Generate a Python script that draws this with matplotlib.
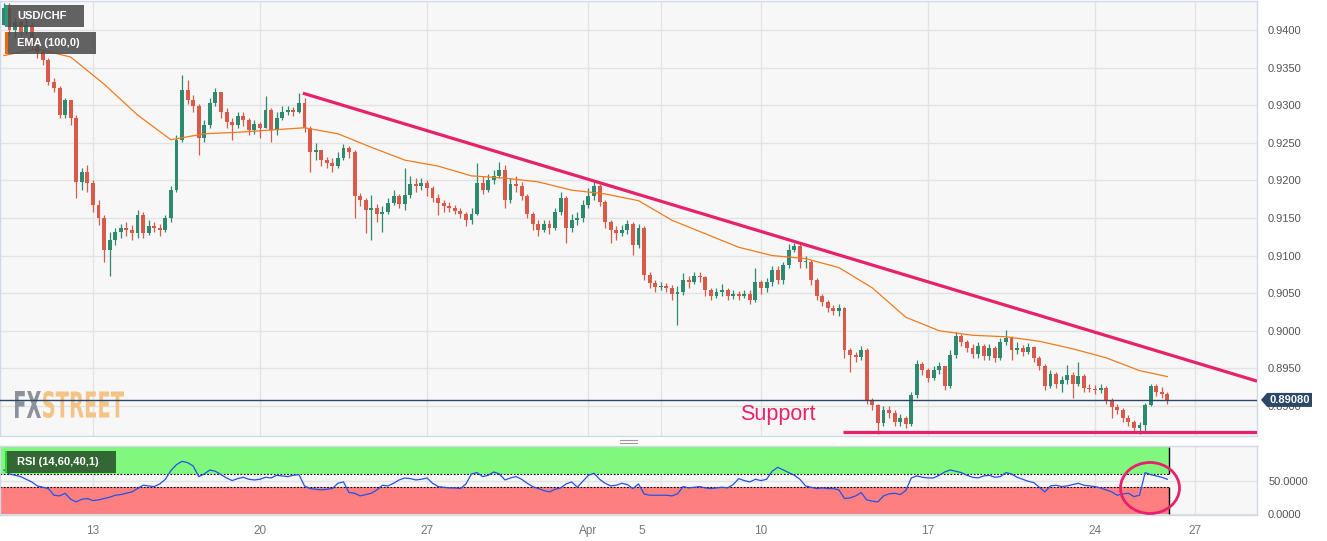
import numpy as np
import matplotlib
matplotlib.use("Agg")
import matplotlib.pyplot as plt
from matplotlib.patches import Rectangle, Ellipse, Polygon, PathPatch
from matplotlib.transforms import Affine2D
from matplotlib.textpath import TextPath
from matplotlib.font_manager import FontProperties
from matplotlib.ticker import FormatStrFormatter

plt.rcParams['font.family'] = ['Liberation Sans', 'DejaVu Sans']

# USD/CHF, 4h bars from Mar 8 to Apr 26 (open of the first bar, then close/high/low)
first_open = 0.9407
closes = [
    0.9429, 0.9400, 0.9411, 0.9397, 0.9407, 0.9380, 0.9371, 0.9360, 0.9331, 0.9323,
    0.9287, 0.9307, 0.9283, 0.9198, 0.9211, 0.9197, 0.9167, 0.9150, 0.9107, 0.9121,
    0.9131, 0.9137, 0.9134, 0.9130, 0.9154, 0.9130, 0.9139, 0.9137, 0.9134, 0.9150,
    0.9187, 0.9254, 0.9320, 0.9307, 0.9299, 0.9256, 0.9274, 0.9303, 0.9318, 0.9291,
    0.9278, 0.9274, 0.9286, 0.9280, 0.9267, 0.9275, 0.9270, 0.9294, 0.9267, 0.9283,
    0.9291, 0.9294, 0.9291, 0.9303, 0.9270, 0.9238, 0.9240, 0.9227, 0.9223, 0.9219,
    0.9230, 0.9243, 0.9238, 0.9179, 0.9174, 0.9161, 0.9163, 0.9155, 0.9158, 0.9170,
    0.9179, 0.9169, 0.9181, 0.9195, 0.9193, 0.9197, 0.9190, 0.9177, 0.9170, 0.9166,
    0.9163, 0.9159, 0.9155, 0.9147, 0.9155, 0.9197, 0.9187, 0.9201, 0.9206, 0.9214,
    0.9174, 0.9195, 0.9193, 0.9179, 0.9155, 0.9142, 0.9134, 0.9142, 0.9137, 0.9158,
    0.9177, 0.9137, 0.9147, 0.9150, 0.9167, 0.9179, 0.9193, 0.9171, 0.9145, 0.9134,
    0.9130, 0.9134, 0.9142, 0.9114, 0.9137, 0.9074, 0.9064, 0.9058, 0.9060, 0.9057,
    0.9049, 0.9052, 0.9068, 0.9065, 0.9073, 0.9072, 0.9054, 0.9046, 0.9052, 0.9054,
    0.9046, 0.9049, 0.9046, 0.9049, 0.9041, 0.9065, 0.9057, 0.9065, 0.9081, 0.9068,
    0.9088, 0.9107, 0.9113, 0.9092, 0.9092, 0.9068, 0.9046, 0.9038, 0.9030, 0.9026,
    0.9030, 0.8974, 0.8968, 0.8965, 0.8974, 0.8908, 0.8901, 0.8877, 0.8895, 0.8891,
    0.8879, 0.8884, 0.8876, 0.8915, 0.8956, 0.8948, 0.8937, 0.8948, 0.8953, 0.8927,
    0.8968, 0.8993, 0.8985, 0.8977, 0.8969, 0.8980, 0.8967, 0.8977, 0.8964, 0.8985,
    0.8990, 0.8974, 0.8977, 0.8972, 0.8978, 0.8964, 0.8953, 0.8927, 0.8943, 0.8929,
    0.8935, 0.8941, 0.8929, 0.8940, 0.8924, 0.8922, 0.8921, 0.8924, 0.8908, 0.8899,
    0.8895, 0.8884, 0.8879, 0.8871, 0.8875, 0.8901, 0.8927, 0.8919, 0.8916, 0.8908,
]
highs = [
    0.9436, 0.9436, 0.9416, 0.9413, 0.9416, 0.9411, 0.9387, 0.9373, 0.9363, 0.9336,
    0.9326, 0.9310, 0.9307, 0.9287, 0.9217, 0.9221, 0.9201, 0.9174, 0.9154, 0.9131,
    0.9137, 0.9142, 0.9145, 0.9141, 0.9161, 0.9158, 0.9147, 0.9145, 0.9142, 0.9154,
    0.9193, 0.9260, 0.9340, 0.9334, 0.9314, 0.9302, 0.9280, 0.9310, 0.9323, 0.9318,
    0.9296, 0.9283, 0.9291, 0.9291, 0.9283, 0.9280, 0.9278, 0.9312, 0.9296, 0.9291,
    0.9299, 0.9299, 0.9298, 0.9316, 0.9310, 0.9272, 0.9250, 0.9240, 0.9231, 0.9230,
    0.9238, 0.9248, 0.9246, 0.9240, 0.9183, 0.9177, 0.9181, 0.9169, 0.9166, 0.9177,
    0.9187, 0.9182, 0.9217, 0.9206, 0.9203, 0.9203, 0.9201, 0.9193, 0.9182, 0.9174,
    0.9171, 0.9167, 0.9163, 0.9158, 0.9163, 0.9223, 0.9206, 0.9209, 0.9214, 0.9225,
    0.9221, 0.9203, 0.9206, 0.9198, 0.9182, 0.9158, 0.9147, 0.9147, 0.9147, 0.9163,
    0.9185, 0.9179, 0.9155, 0.9158, 0.9174, 0.9190, 0.9198, 0.9195, 0.9174, 0.9147,
    0.9139, 0.9141, 0.9147, 0.9145, 0.9142, 0.9139, 0.9078, 0.9068, 0.9065, 0.9064,
    0.9061, 0.9060, 0.9077, 0.9073, 0.9078, 0.9078, 0.9073, 0.9057, 0.9057, 0.9062,
    0.9057, 0.9054, 0.9053, 0.9054, 0.9054, 0.9084, 0.9068, 0.9070, 0.9086, 0.9086,
    0.9092, 0.9115, 0.9117, 0.9115, 0.9100, 0.9094, 0.9070, 0.9049, 0.9041, 0.9034,
    0.9036, 0.9032, 0.8977, 0.8972, 0.8980, 0.8977, 0.8911, 0.8903, 0.8900, 0.8900,
    0.8895, 0.8889, 0.8887, 0.8919, 0.8961, 0.8959, 0.8951, 0.8953, 0.8959, 0.8953,
    0.8974, 0.8998, 0.8996, 0.8988, 0.8982, 0.8985, 0.8982, 0.8982, 0.8980, 0.8990,
    0.9001, 0.8993, 0.8985, 0.8981, 0.8984, 0.8980, 0.8967, 0.8956, 0.8948, 0.8945,
    0.8940, 0.8955, 0.8945, 0.8959, 0.8943, 0.8929, 0.8928, 0.8929, 0.8927, 0.8911,
    0.8903, 0.8897, 0.8888, 0.8881, 0.8879, 0.8904, 0.8929, 0.8929, 0.8925, 0.8919,
]
lows = [
    0.9407, 0.9393, 0.9389, 0.9392, 0.9395, 0.9373, 0.9363, 0.9354, 0.9327, 0.9318,
    0.9283, 0.9283, 0.9274, 0.9177, 0.9187, 0.9185, 0.9158, 0.9141, 0.9092, 0.9073,
    0.9114, 0.9123, 0.9126, 0.9121, 0.9123, 0.9123, 0.9127, 0.9131, 0.9126, 0.9131,
    0.9145, 0.9185, 0.9251, 0.9302, 0.9291, 0.9234, 0.9251, 0.9270, 0.9299, 0.9283,
    0.9270, 0.9254, 0.9270, 0.9272, 0.9260, 0.9262, 0.9256, 0.9270, 0.9251, 0.9260,
    0.9280, 0.9287, 0.9286, 0.9290, 0.9264, 0.9211, 0.9227, 0.9219, 0.9217, 0.9211,
    0.9217, 0.9227, 0.9230, 0.9150, 0.9166, 0.9130, 0.9121, 0.9145, 0.9131, 0.9155,
    0.9167, 0.9163, 0.9161, 0.9177, 0.9185, 0.9187, 0.9179, 0.9171, 0.9154, 0.9158,
    0.9158, 0.9155, 0.9150, 0.9139, 0.9142, 0.9154, 0.9182, 0.9185, 0.9195, 0.9203,
    0.9163, 0.9170, 0.9185, 0.9174, 0.9150, 0.9134, 0.9126, 0.9131, 0.9129, 0.9134,
    0.9154, 0.9117, 0.9131, 0.9141, 0.9145, 0.9163, 0.9174, 0.9166, 0.9137, 0.9117,
    0.9121, 0.9126, 0.9129, 0.9101, 0.9110, 0.9068, 0.9057, 0.9052, 0.9054, 0.9052,
    0.9041, 0.9008, 0.9048, 0.9057, 0.9062, 0.9065, 0.9046, 0.9041, 0.9044, 0.9046,
    0.9041, 0.9042, 0.9041, 0.9044, 0.9036, 0.9038, 0.9049, 0.9052, 0.9060, 0.9062,
    0.9062, 0.9084, 0.9105, 0.9084, 0.9084, 0.9061, 0.9041, 0.9033, 0.9025, 0.9021,
    0.9020, 0.8964, 0.8945, 0.8959, 0.8961, 0.8903, 0.8895, 0.8863, 0.8873, 0.8884,
    0.8873, 0.8873, 0.8871, 0.8873, 0.8911, 0.8941, 0.8932, 0.8935, 0.8943, 0.8921,
    0.8924, 0.8964, 0.8980, 0.8972, 0.8964, 0.8964, 0.8961, 0.8961, 0.8959, 0.8961,
    0.8981, 0.8961, 0.8969, 0.8967, 0.8969, 0.8959, 0.8948, 0.8921, 0.8924, 0.8924,
    0.8919, 0.8929, 0.8911, 0.8927, 0.8919, 0.8919, 0.8916, 0.8917, 0.8903, 0.8884,
    0.8889, 0.8879, 0.8873, 0.8865, 0.8863, 0.8865, 0.8900, 0.8913, 0.8911, 0.8903,
]

# EMA (100), one value per trading day (bar number)
ema_bar = [0, 6, 12, 18, 24, 30, 36, 42, 48, 54, 60, 66, 72, 78, 84, 90, 96, 102,
           108, 114, 120, 126, 132, 138, 144, 150, 156, 162, 168, 174, 180, 186,
           192, 198, 204, 209]
ema = [0.9366, 0.9375, 0.9364, 0.9328, 0.9287, 0.9254, 0.9262, 0.9264, 0.9267,
       0.9270, 0.9262, 0.9244, 0.9227, 0.9219, 0.9206, 0.9203, 0.9198, 0.9187,
       0.9182, 0.9173, 0.9147, 0.9129, 0.9111, 0.9100, 0.9096, 0.9084, 0.9057,
       0.9018, 0.9000, 0.8994, 0.8992, 0.8986, 0.8976, 0.8964, 0.8947, 0.8939]

# RSI (14) per bar
rsi = [
    66, 60, 58, 56, 52, 48, 42, 40, 38, 28,
    27, 31, 22, 18, 22, 23, 20, 21, 23, 25,
    28, 29, 31, 33, 38, 43, 42, 41, 45, 52,
    65, 74, 79, 77, 72, 56, 60, 66, 64, 59,
    54, 50, 53, 55, 52, 51, 52, 55, 54, 58,
    57, 56, 58, 59, 42, 38, 37, 36, 37, 38,
    46, 48, 32, 31, 27, 29, 31, 36, 43, 42,
    46, 51, 54, 53, 51, 52, 54, 46, 41, 40,
    39, 39, 38, 45, 60, 62, 56, 58, 63, 60,
    51, 54, 56, 52, 46, 41, 38, 35, 33, 37,
    39, 45, 48, 40, 49, 58, 61, 52, 46, 42,
    43, 46, 44, 38, 45, 30, 28, 28, 28, 28,
    27, 30, 41, 39, 40, 41, 39, 38, 39, 40,
    39, 44, 53, 50, 48, 52, 50, 52, 64, 70,
    66, 62, 58, 52, 42, 40, 38, 39, 38, 38,
    36, 23, 24, 27, 32, 21, 19, 18, 27, 30,
    31, 29, 35, 54, 57, 55, 54, 54, 58, 63,
    66, 64, 62, 58, 55, 54, 57, 58, 55, 56,
    62, 60, 55, 52, 49, 47, 40, 33, 42, 43,
    41, 42, 44, 46, 43, 42, 41, 39, 36, 33,
    28, 30, 31, 26, 28, 62, 59, 57, 55, 52,
]

# date axis (bar numbers where each day starts)
date_labels = ["13", "20", "27", "Apr", "5", "10", "17", "24", "27"]
date_label_bar = [16, 46, 76, 105, 114.5, 136, 166, 196, 214]
date_grid_bar = [16, 46, 76, 105, 118, 136, 166, 196, 214]

# drawn lines
trend_bar = [53.7, 225.1]
trend_price = [0.9316, 0.8933]
support_price = 0.8865
support_from = 150.7

GREEN = '#2e8a6e'
RED = '#d95a4a'
PINK = '#e8226a'
NAVY = '#2c4868'
GRID = '#e3e3e3'

W, H = 1327, 541
fig = plt.figure(figsize=(W / 100, H / 100), dpi=100)
fig.patch.set_facecolor('white')


def fx(px):
    return px / W


def fy(py):
    return 1 - py / H


ax = fig.add_axes([0, fy(436), fx(1257), 435 / H])
ax2 = fig.add_axes([0, fy(515), fx(1257), 69 / H])
xmin, xmax = -0.7, 225.1

for a in (ax, ax2):
    a.set_facecolor('#f7f7f7')
    for s in a.spines.values():
        s.set_color('#d3d8e6')
        s.set_linewidth(1)
    for g in date_grid_bar:
        a.axvline(g, color=GRID, lw=1, zorder=0.5)
    a.set_xlim(xmin, xmax)

# candles
n = len(closes)
idx = np.arange(n)
c = np.array(closes)
o = np.array([first_open] + closes[:-1])
hi = np.array(highs)
lo = np.array(lows)
col = np.where(c >= o, GREEN, RED)
ax.vlines(idx, lo, hi, colors=col, lw=0.9, zorder=3)
ax.bar(idx, np.maximum(np.abs(c - o), 0.00004), bottom=np.minimum(o, c),
       width=0.7, color=col, lw=0, zorder=4)

ax.plot(ema_bar, ema, color='#f27a1c', lw=0.9, zorder=5)
ax.axhline(c[-1], color=NAVY, lw=1, zorder=5)
ax.plot(trend_bar, trend_price, color=PINK, lw=2.3, zorder=6, solid_capstyle='butt')
ax.hlines(support_price, support_from, xmax, color=PINK, lw=2.3, zorder=6)
ax.text(139, 0.8881, "Support", color=PINK, fontsize=15.5, ha='center', va='baseline', zorder=7)

ax.set_ylim(0.8860, 0.94386)
ax.set_yticks(np.arange(0.89, 0.94005, 0.005))
ax.yaxis.set_major_formatter(FormatStrFormatter('%.4f'))
ax.yaxis.tick_right()
ax.tick_params(axis='y', length=0, pad=8, labelsize=8, labelcolor='#555555')
ax.tick_params(axis='x', bottom=False, labelbottom=False)
ax.grid(axis='y', color=GRID, lw=1)
ax.set_axisbelow(True)

# FXSTREET watermark, squeezed to the logo box
fp = FontProperties(family='DejaVu Sans', weight='bold')


def logo(s, x0, x1, ytop, ybot, color):
    tp = TextPath((0, 0), s, size=20, prop=fp)
    e = tp.get_extents()
    tr = (Affine2D().translate(-e.x0, -e.y0)
          .scale((x1 - x0) / e.width, (ybot - ytop) / e.height)
          .translate(x0, H - ybot).scale(1 / W, 1 / H)) + fig.transFigure
    ax.add_artist(PathPatch(tp, transform=tr, fc=color, ec='none', zorder=1))


logo("FX", 15, 41, 391, 418, '#8d919a')
logo("STREET", 43, 124, 391, 418, '#f4c386')

# RSI panel
band_end = n - 0.7
ax2.fill_between([xmin, band_end], 60, 100, color='#80f87e', lw=0, zorder=1)
ax2.fill_between([xmin, band_end], 0, 40, color='#fe7f7f', lw=0, zorder=1)
ax2.hlines([60, 40], xmin, band_end, colors='black', linestyles=(0, (1.5, 1.5)), lw=0.8, zorder=2)
ax2.vlines(band_end, 60, 100, colors='black', lw=1, zorder=2)
ax2.vlines(band_end, 0, 40, colors='black', lw=1, zorder=2)
ax2.plot(idx, rsi, color='#2352e8', lw=0.9, zorder=3)
ax2.set_ylim(-1.7, 102)
ax2.set_yticks([0, 50])
ax2.yaxis.set_major_formatter(FormatStrFormatter('%.4f'))
ax2.yaxis.tick_right()
ax2.tick_params(axis='y', length=0, pad=8, labelsize=8, labelcolor='#555555')
ax2.grid(axis='y', color=GRID, lw=1)
ax2.set_axisbelow(True)
ax2.set_xticks(date_label_bar)
ax2.set_xticklabels(date_labels)
ax2.tick_params(axis='x', length=0, pad=7, labelsize=8.5, labelcolor='#777777')


# label boxes (figure pixel positions)
def box(x0, y0, x1, y1, fc, alpha=1.0):
    fig.add_artist(Rectangle((fx(x0), fy(y1)), fx(x1 - x0), (y1 - y0) / H,
                             transform=fig.transFigure, fc=fc, ec='none', alpha=alpha))


box(5, 5, 84, 27, '#4d4d4d', 0.88)
box(5, 5, 8, 27, '#2e9a7c')
fig.text(fx(17), fy(16), "USD/CHF", color='white', fontsize=8, weight='bold', va='center')
box(5, 32, 96, 54, '#4d4d4d', 0.88)
box(5, 32, 8, 54, '#f06a0c')
fig.text(fx(17), fy(43), "EMA (100,0)", color='white', fontsize=8, weight='bold', va='center')
box(5, 451, 116, 473, '#2f5f2f', 0.95)
box(5, 451, 7, 473, '#1ee01e')
fig.text(fx(17), fy(462), "RSI (14,60,40,1)", color='white', fontsize=8, weight='bold', va='center')

# last price tag
yp = ax.transData.transform((0, c[-1]))[1]
py = H - yp
tag = [(1261, py), (1267, py - 7), (1312, py - 7), (1312, py + 7), (1267, py + 7)]
fig.add_artist(Polygon([(fx(x), fy(y)) for x, y in tag], closed=True,
                       transform=fig.transFigure, fc=NAVY, ec='none', zorder=2))
fig.text(fx(1289.5), fy(py), "%.5f" % c[-1], color='white', fontsize=8, weight='bold',
         ha='center', va='center', zorder=3)

# circle round the last RSI swing
fig.add_artist(Ellipse((fx(1150), fy(488)), 59 / W, 51 / H, transform=fig.transFigure,
                       fill=False, ec=PINK, lw=2, zorder=3))

# panel divider handle
for yy in (439.5, 442.5):
    fig.add_artist(plt.Line2D([fx(620), fx(637)], [fy(yy), fy(yy)],
                              transform=fig.transFigure, color='#9a9a9a', lw=0.8))

fig.savefig("out.png", dpi=100)
